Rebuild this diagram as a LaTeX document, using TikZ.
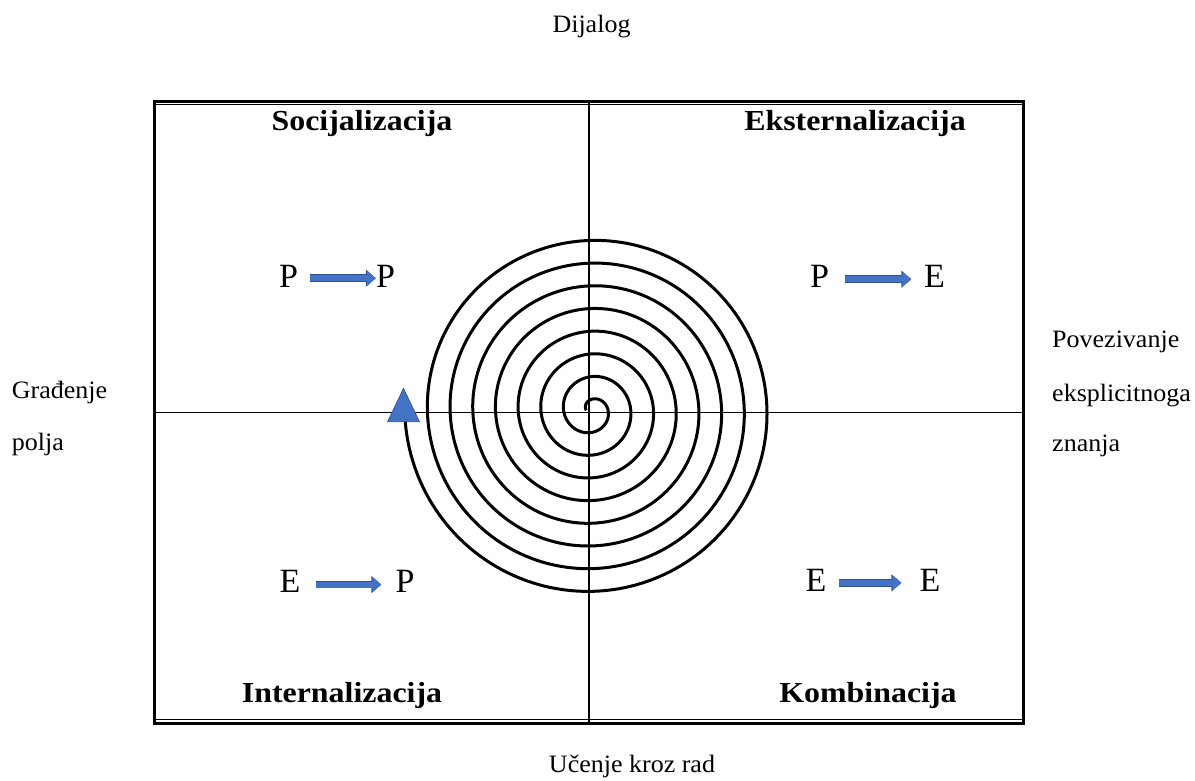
\documentclass[tikz,border=0pt]{standalone}
\usepackage{fontspec}
\setmainfont{Liberation Serif}
\newfontfamily\sidefont{Liberation Serif}[FakeStretch=1.04]
\newfontfamily\headfont{Liberation Serif}[FakeStretch=1.1,FakeBold=0]
\usetikzlibrary{arrows.meta}
\definecolor{arrowblue}{HTML}{4472C4}
\definecolor{arrowdark}{HTML}{2F528F}
\tikzset{
  side/.style={font=\sidefont\fontsize{25}{25}\selectfont, inner sep=0pt},
  head/.style={font=\headfont\fontsize{29}{29}\selectfont\bfseries, inner sep=0pt, anchor=base},
  letter/.style={font=\fontsize{34}{34}\selectfont, inner sep=0pt, anchor=base},
  blockarrow/.style={draw=arrowblue, line width=6pt, -{Triangle[length=9pt,width=15pt]},
    preaction={draw=arrowdark, line width=7.4pt, -{Triangle[length=10pt,width=16.5pt]}}},
  spiralline/.style={line width=3pt, line join=round},
  crossline/.style={line width=1.5pt},
}
\begin{document}
\begin{tikzpicture}[x=1pt,y=-1pt]
\useasboundingbox (0,0) rectangle (1195,780);
% frame
\draw[line width=3pt] (154,101.3) rectangle (1023.8,723.2);
\draw[line width=1.2pt] (155.5,104.6) -- (1022.3,104.6);
\draw[line width=1.2pt] (155.5,719.6) -- (1022.3,719.6);
% cross
\draw[crossline] (589,102.8) -- (589,721.7);
\draw[crossline] (155.5,412.5) -- (1022.3,412.5);
% spiral
\draw[spiralline] plot[domain=-90:2787, samples=1000, smooth, variable=\p]
  ({591.5 + (10.9+22.7*(\p/360))*cos(\p-90)}, {410.2 + (10.9+22.7*(\p/360))*sin(\p-90)});
\coordinate (spend) at (403.5,421.7);
\filldraw[fill=arrowblue, draw=arrowdark, line width=0.6pt] (spend) ++(0,-33.4) -- ++(16,33.4) -- ++(-32,0) -- cycle;
% outside labels
\node[side, anchor=base] (dij) at (591.5,32.3) {Dijalog};
\node[side, anchor=base] (uc) at (632,772.5) {Učenje kroz rad};
\node[side, anchor=base west] (gr1) at (11.7,398.3) {Građenje};
\node[side, anchor=base west] (gr2) at (11.7,450) {polja};
\node[side, anchor=base west] (pv1) at (1052,347.3) {Povezivanje};
\node[side, anchor=base west] (pv2) at (1052,401) {eksplicitnoga};
\node[side, anchor=base west] (pv3) at (1052,451.7) {znanja};
% headings
\node[head] (soc) at (362,130.7) {Socijalizacija};
\node[head] (eks) at (855,130.7) {Eksternalizacija};
\node[head] (int) at (342,702.5) {Internalizacija};
\node[head] (kom) at (868,702.5) {Kombinacija};
% letters and arrows
\node[letter] (tl1) at (288.5,287.3) {P};
\node[letter] (tl2) at (385.5,287.3) {P};
\node[letter] (tr1) at (819.5,287.3) {P};
\node[letter] (tr2) at (934.5,287.3) {E};
\node[letter] (bl1) at (290,592.7) {E};
\node[letter] (bl2) at (405,592.7) {P};
\node[letter] (br1) at (816,591) {E};
\node[letter] (br2) at (930,591) {E};
\draw[blockarrow, shorten <=11.6pt] ([yshift=-2pt]tl1.east) -- ([yshift=-2pt]tl2.west);
\draw[blockarrow, shorten <=16pt, shorten >=12.6pt] ([yshift=-3pt]tr1.east) -- ([yshift=-3pt]tr2.west);
\draw[blockarrow, shorten <=15.8pt, shorten >=14pt] ([yshift=-3pt]bl1.east) -- ([yshift=-3pt]bl2.west);
\draw[blockarrow, shorten <=12pt, shorten >=18pt] ([yshift=-3pt]br1.east) -- ([yshift=-3pt]br2.west);
\end{tikzpicture}
\end{document}
